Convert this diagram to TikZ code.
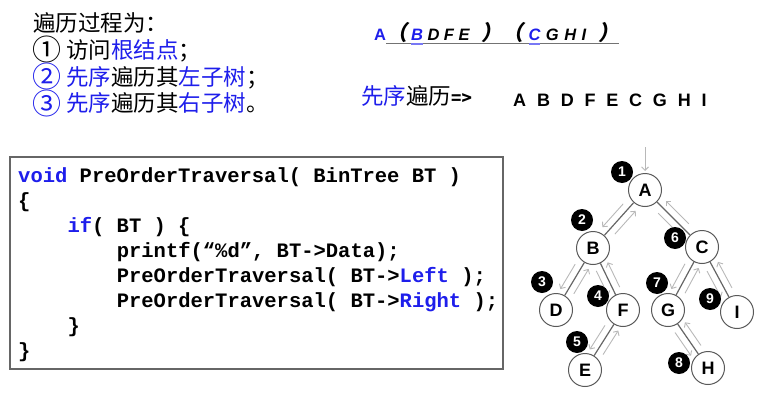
\documentclass[tikz,border=0pt]{standalone}
\usepackage{fontspec}
\setmainfont{Liberation Sans}
\newfontfamily\cjk{Noto Sans CJK SC}
\newfontfamily\cjkit[FakeSlant=0.2]{Noto Sans CJK SC}
\newfontfamily\codefont{Liberation Mono}
\usetikzlibrary{arrows.meta, calc, positioning}
\definecolor{hlblue}{RGB}{30,30,235}
\definecolor{ulblue}{RGB}{120,120,245}

\newsavebox\ulgraybox
\newsavebox\ulbluebox
\newcommand\grayline[1]{\sbox\ulgraybox{#1}\rlap{\color{black!55}\rule[-4pt]{\wd\ulgraybox}{1.4pt}}\usebox\ulgraybox}
\newcommand\blueline[1]{\sbox\ulbluebox{#1}\rlap{\color{ulblue}\rule[-4.5pt]{\wd\ulbluebox}{2pt}}\usebox\ulbluebox}
\newcommand\paren[1]{{\cjkit\fontsize{21}{21}\selectfont #1}}
\newcommand\circnum[1]{\raisebox{-2.5pt}{\fontsize{29}{29}\selectfont #1}}

\begin{document}
\begin{tikzpicture}[x=1pt, y=-1pt,
    treenode/.style={circle, draw=black!65, line width=1pt, fill=white,
        minimum size=33pt, inner sep=0pt,
        font=\bfseries\fontsize{18}{18}\selectfont},
    numdisc/.style={circle, fill=black, text=white, minimum size=22pt,
        inner sep=0pt, font=\bfseries\fontsize{14}{14}\selectfont},
    edge/.style={draw=black!60, line width=1.2pt},
    walk/.style={draw=black!28, line width=0.9pt,
        -{Straight Barb[length=3.5pt,width=7pt]}},
    codeline/.style={anchor=base west, inner sep=0pt,
        font=\codefont\bfseries\fontsize{20.5}{25}\selectfont},
    cjkline/.style={anchor=base west, inner sep=0pt,
        font=\cjk\fontsize{22.5}{27}\selectfont}]
    \useasboundingbox (0,0) rectangle (775,404);

    % steps of the traversal
    \node[cjkline] (step0) at (33,31.6) {遍历过程为：};
    \node[cjkline] (step1) at (32,58.3) {\circnum{①} 访问{\color{hlblue}根结点}；};
    \node[cjkline] (step2) at (32,85) {{\color{hlblue}\circnum{②} 先序}遍历其{\color{hlblue}左子树}；};
    \node[cjkline] (step3) at (32,111.6) {{\color{hlblue}\circnum{③} 先序}遍历其{\color{hlblue}右子树}。};

    % order of visits
    \node[anchor=base west, inner sep=0pt,
        font=\bfseries\fontsize{16.5}{20}\selectfont] (split) at (374,40.5)
        {\spaceskip=4.5pt\relax{\color{hlblue}A}\grayline{\itshape\paren{（}\hspace{4pt}\blueline{\color{hlblue}B} D F E\hspace{12pt}\paren{）}\paren{（}\hspace{5pt}{\spaceskip=5.5pt\relax\blueline{\color{hlblue}C} G H I}\hspace{12pt}\paren{）}}};
    \node[cjkline] (pretitle) at (361,104.6)
        {{\color{hlblue}先序}遍历{\bfseries\fontsize{17}{17}\selectfont =>}};
    \node[anchor=base west, inner sep=0pt,
        font=\bfseries\fontsize{18}{18}\selectfont] (preorder) at (513,106)
        {\spaceskip=10.8pt\relax A B D F E C G H I};

    % code
    \draw[black!60, line width=1.2pt] (10,157) rectangle (503,369);
    \node[codeline] (code1) at (18,182) {{\color{hlblue}void} PreOrderTraversal( BinTree BT )};
    \node[codeline] (code2) at (18,207) {\{};
    \node[codeline] (code3) at (67.3,232) {{\color{hlblue}if}( BT ) \{};
    \node[codeline] (code4) at (116.6,257) {printf(“\%d”, BT->Data);};
    \node[codeline] (code5) at (116.6,282) {PreOrderTraversal( BT->{\color{hlblue}Left} );};
    \node[codeline] (code6) at (116.6,307) {PreOrderTraversal( BT->{\color{hlblue}Right} );};
    \node[codeline] (code7) at (67.3,332) {\}};
    \node[codeline] (code8) at (18,357) {\}};

    % tree
    \node[treenode] (A) at (645,190) {A};
    \node[treenode] (B) at (593,248) {B};
    \node[treenode] (C) at (702,247) {C};
    \node[treenode] (D) at (556,310) {D};
    \node[treenode] (F) at (623,310) {F};
    \node[treenode] (G) at (668,310) {G};
    \node[treenode] (I) at (737,312) {I};
    \node[treenode] (E) at (585,370) {E};
    \node[treenode] (H) at (708,368) {H};
    \foreach \a/\b in {A/B,A/C,B/D,B/F,F/E,C/G,C/I,G/H}
        \draw[edge] (\a) -- (\b);

    % walk round the tree
    \coordinate (entry) at (645,147);
    \draw[walk, shorten >=2pt] (entry) -- (A);
    \foreach \a/\b in {A/B,B/D,D/B,B/F,F/E,E/F,F/B,B/A,A/C,C/G,G/H,H/G,G/C,C/I,I/C,C/A}
        \draw[walk] ($(\a)!.32!(\b)!7pt!-90:(\b)$) -- ($(\a)!.72!(\b)!7pt!-90:(\b)$);

    % visit numbers
    \node[numdisc] (n1) at (622,172) {1};
    \node[numdisc] (n2) at (582,220) {2};
    \node[numdisc] (n3) at (542,282) {3};
    \node[numdisc] (n4) at (598,296) {4};
    \node[numdisc] (n5) at (577,342) {5};
    \node[numdisc] (n6) at (675,238) {6};
    \node[numdisc] (n7) at (657,283) {7};
    \node[numdisc] (n8) at (679,363) {8};
    \node[numdisc] (n9) at (710,299) {9};
\end{tikzpicture}
\end{document}
